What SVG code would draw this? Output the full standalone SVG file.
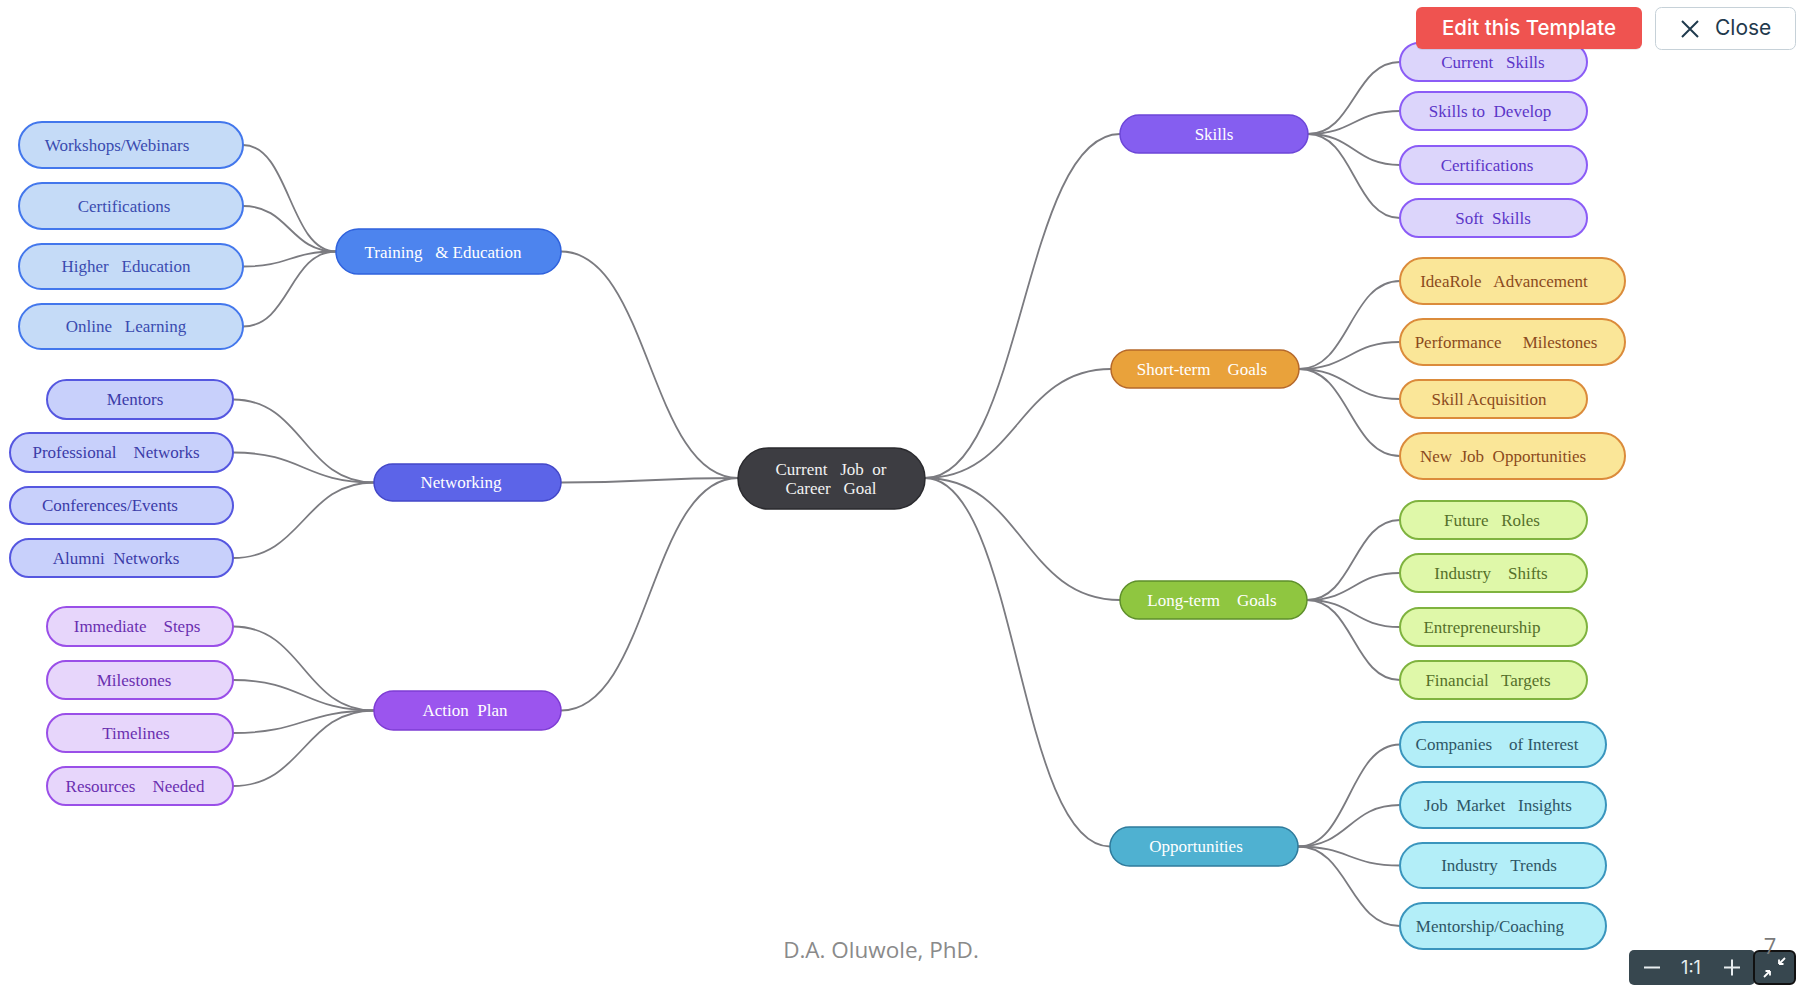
<svg xmlns="http://www.w3.org/2000/svg" width="1805" height="987" viewBox="0 0 1805 987">
<style>
text{font-family:"Liberation Serif","Times New Roman",serif;font-size:17px;text-anchor:middle;white-space:pre}
.conn path{fill:none;stroke:#7b7b80;stroke-width:1.8}
.root rect{fill:#3d3d42;stroke:#2a2a2e;stroke-width:1.5}
.root text{fill:#f2f2f2}
.br text{fill:#ffffff}
.tr rect{fill:#4d84ee;stroke:#2f62dd;stroke-width:1.5}
.trc rect{fill:#c5dbf7;stroke:#4377ec;stroke-width:2}
.trc text{fill:#3a4bb0}
.nw rect{fill:#5c64e8;stroke:#4347c8;stroke-width:1.5}
.nwc rect{fill:#c8d0fb;stroke:#5557e0;stroke-width:2}
.nwc text{fill:#3b3ba8}
.ap rect{fill:#9b55ee;stroke:#7e3cd4;stroke-width:1.5}
.apc rect{fill:#e7d6fb;stroke:#9a4fe8;stroke-width:2}
.apc text{fill:#6a2fb0}
.sk rect{fill:#855ef0;stroke:#6c46d8;stroke-width:1.5}
.skc rect{fill:#dcd5fb;stroke:#8b5cf6;stroke-width:2}
.skc text{fill:#5b35c8}
.st rect{fill:#e9a23b;stroke:#b5682a;stroke-width:1.5}
.stc rect{fill:#fae698;stroke:#db8b3b;stroke-width:2}
.stc text{fill:#8b4a1c}
.lt rect{fill:#8fc640;stroke:#5e8f2a;stroke-width:1.5}
.ltc rect{fill:#dff8a9;stroke:#7fb33f;stroke-width:2}
.ltc text{fill:#55702a}
.op rect{fill:#4fb1d1;stroke:#2f7b9c;stroke-width:1.5}
.opc rect{fill:#b3eef8;stroke:#3a95bd;stroke-width:2}
.opc text{fill:#2e5666}
.ui{font-family:Inter,Roboto,"Liberation Sans",sans-serif;text-anchor:start}
</style>

<g class="conn" id="connectors">
<path d="M925,478 C1022.5,478 1022.5,134 1120,134"/>
<path d="M925,478 C1018,478 1018,369 1111,369"/>
<path d="M925,478 C1022.5,478 1022.5,600 1120,600"/>
<path d="M925,478 C1017.5,478 1017.5,846.5 1110,846.5"/>
<path d="M738,478 C649.5,478 649.5,251.5 561,251.5"/>
<path d="M738,478 C649.5,478 649.5,482.5 561,482.5"/>
<path d="M738,478 C649.5,478 649.5,710.5 561,710.5"/>
<path d="M1308,134 C1354,134 1354,62 1400,62"/>
<path d="M1308,134 C1354,134 1354,111 1400,111"/>
<path d="M1308,134 C1354,134 1354,165 1400,165"/>
<path d="M1308,134 C1354,134 1354,218 1400,218"/>
<path d="M1299,369 C1349.5,369 1349.5,281 1400,281"/>
<path d="M1299,369 C1349.5,369 1349.5,342 1400,342"/>
<path d="M1299,369 C1349.5,369 1349.5,399 1400,399"/>
<path d="M1299,369 C1349.5,369 1349.5,456 1400,456"/>
<path d="M1307,600 C1353.5,600 1353.5,520 1400,520"/>
<path d="M1307,600 C1353.5,600 1353.5,573 1400,573"/>
<path d="M1307,600 C1353.5,600 1353.5,627 1400,627"/>
<path d="M1307,600 C1353.5,600 1353.5,680 1400,680"/>
<path d="M1298,846.5 C1349,846.5 1349,744.5 1400,744.5"/>
<path d="M1298,846.5 C1349,846.5 1349,805 1400,805"/>
<path d="M1298,846.5 C1349,846.5 1349,865.5 1400,865.5"/>
<path d="M1298,846.5 C1349,846.5 1349,926 1400,926"/>
<path d="M336,251.5 C289.5,251.5 289.5,145 243,145"/>
<path d="M336,251.5 C289.5,251.5 289.5,206 243,206"/>
<path d="M336,251.5 C289.5,251.5 289.5,266.5 243,266.5"/>
<path d="M336,251.5 C289.5,251.5 289.5,326.5 243,326.5"/>
<path d="M374,482.5 C303.5,482.5 303.5,399.5 233,399.5"/>
<path d="M374,482.5 C303.5,482.5 303.5,452.5 233,452.5"/>
<path d="M374,482.5 C303.5,482.5 303.5,558 233,558"/>
<path d="M374,710.5 C303.5,710.5 303.5,626.5 233,626.5"/>
<path d="M374,710.5 C303.5,710.5 303.5,680 233,680"/>
<path d="M374,710.5 C303.5,710.5 303.5,733 233,733"/>
<path d="M374,710.5 C303.5,710.5 303.5,786 233,786"/>
</g>

<g id="root" class="root"><rect x="738" y="448" width="187" height="61" rx="30.5"/><text x="831" y="475" xml:space="preserve">Current   Job  or</text><text x="831" y="494" xml:space="preserve">Career   Goal</text></g>

<g id="training" class="br tr"><rect x="336" y="229" width="225" height="45" rx="22.5"/><text x="443" y="258" xml:space="preserve">Training   &amp; Education</text></g>
<g id="workshops" class="trc"><rect x="19" y="122" width="224" height="46" rx="23"/><text x="117" y="151">Workshops/Webinars</text></g>
<g id="certifications-l" class="trc"><rect x="19" y="183" width="224" height="46" rx="23"/><text x="124" y="212">Certifications</text></g>
<g id="higher-education" class="trc"><rect x="19" y="244" width="224" height="45" rx="22.5"/><text x="126" y="272" xml:space="preserve">Higher   Education</text></g>
<g id="online-learning" class="trc"><rect x="19" y="304" width="224" height="45" rx="22.5"/><text x="126" y="332" xml:space="preserve">Online   Learning</text></g>

<g id="networking" class="br nw"><rect x="374" y="464" width="187" height="37" rx="18.5"/><text x="461" y="488">Networking</text></g>
<g id="mentors" class="nwc"><rect x="47" y="380" width="186" height="39" rx="19.5"/><text x="135" y="405">Mentors</text></g>
<g id="professional-networks" class="nwc"><rect x="10" y="433" width="223" height="39" rx="19.5"/><text x="116" y="458" xml:space="preserve">Professional    Networks</text></g>
<g id="conferences" class="nwc"><rect x="10" y="487" width="223" height="37" rx="18.5"/><text x="110" y="511">Conferences/Events</text></g>
<g id="alumni" class="nwc"><rect x="10" y="539" width="223" height="38" rx="19"/><text x="116" y="564" xml:space="preserve">Alumni  Networks</text></g>

<g id="action-plan" class="br ap"><rect x="374" y="691" width="187" height="39" rx="19.5"/><text x="465" y="716" xml:space="preserve">Action  Plan</text></g>
<g id="immediate-steps" class="apc"><rect x="47" y="607" width="186" height="39" rx="19.5"/><text x="137" y="632" xml:space="preserve">Immediate    Steps</text></g>
<g id="milestones" class="apc"><rect x="47" y="661" width="186" height="38" rx="19"/><text x="134" y="686">Milestones</text></g>
<g id="timelines" class="apc"><rect x="47" y="714" width="186" height="38" rx="19"/><text x="136" y="739">Timelines</text></g>
<g id="resources" class="apc"><rect x="47" y="767" width="186" height="38" rx="19"/><text x="135" y="792" xml:space="preserve">Resources    Needed</text></g>

<g id="skills" class="br sk"><rect x="1120" y="115" width="188" height="38" rx="19"/><text x="1214" y="140">Skills</text></g>
<g id="current-skills" class="skc"><rect x="1400" y="43" width="187" height="38" rx="19"/><text x="1493" y="68" xml:space="preserve">Current   Skills</text></g>
<g id="skills-to-develop" class="skc"><rect x="1400" y="92" width="187" height="38" rx="19"/><text x="1490" y="117" xml:space="preserve">Skills to  Develop</text></g>
<g id="certifications-r" class="skc"><rect x="1400" y="146" width="187" height="38" rx="19"/><text x="1487" y="171">Certifications</text></g>
<g id="soft-skills" class="skc"><rect x="1400" y="199" width="187" height="38" rx="19"/><text x="1493" y="224" xml:space="preserve">Soft  Skills</text></g>

<g id="short-term" class="br st"><rect x="1111" y="350" width="188" height="38" rx="19"/><text x="1202" y="375" xml:space="preserve">Short-term    Goals</text></g>
<g id="idearole" class="stc"><rect x="1400" y="258" width="225" height="46" rx="23"/><text x="1504" y="287" xml:space="preserve">IdeaRole   Advancement</text></g>
<g id="performance" class="stc"><rect x="1400" y="319" width="225" height="46" rx="23"/><text x="1506" y="348" xml:space="preserve">Performance     Milestones</text></g>
<g id="skill-acquisition" class="stc"><rect x="1400" y="380" width="187" height="38" rx="19"/><text x="1489" y="405">Skill Acquisition</text></g>
<g id="new-job" class="stc"><rect x="1400" y="433" width="225" height="46" rx="23"/><text x="1503" y="462" xml:space="preserve">New  Job  Opportunities</text></g>

<g id="long-term" class="br lt"><rect x="1120" y="581" width="187" height="38" rx="19"/><text x="1212" y="606" xml:space="preserve">Long-term    Goals</text></g>
<g id="future-roles" class="ltc"><rect x="1400" y="501" width="187" height="38" rx="19"/><text x="1492" y="526" xml:space="preserve">Future   Roles</text></g>
<g id="industry-shifts" class="ltc"><rect x="1400" y="554" width="187" height="38" rx="19"/><text x="1491" y="579" xml:space="preserve">Industry    Shifts</text></g>
<g id="entrepreneurship" class="ltc"><rect x="1400" y="608" width="187" height="38" rx="19"/><text x="1482" y="633">Entrepreneurship</text></g>
<g id="financial-targets" class="ltc"><rect x="1400" y="661" width="187" height="38" rx="19"/><text x="1488" y="686" xml:space="preserve">Financial   Targets</text></g>

<g id="opportunities" class="br op"><rect x="1110" y="827" width="188" height="39" rx="19.5"/><text x="1196" y="852">Opportunities</text></g>
<g id="companies" class="opc"><rect x="1400" y="722" width="206" height="45" rx="22.5"/><text x="1497" y="750" xml:space="preserve">Companies    of Interest</text></g>
<g id="job-market" class="opc"><rect x="1400" y="782" width="206" height="46" rx="23"/><text x="1498" y="811" xml:space="preserve">Job  Market   Insights</text></g>
<g id="industry-trends" class="opc"><rect x="1400" y="843" width="206" height="45" rx="22.5"/><text x="1499" y="871" xml:space="preserve">Industry   Trends</text></g>
<g id="mentorship" class="opc"><rect x="1400" y="903" width="206" height="46" rx="23"/><text x="1490" y="932">Mentorship/Coaching</text></g>

<g id="edit-button">
<rect x="1416" y="8" width="226" height="42" rx="6" fill="#000" opacity="0.08"/>
<rect x="1416" y="7" width="226" height="42" rx="6" fill="#ef5350"/>
<text class="ui" x="1529" y="35" style="font-size:20.5px;font-weight:500;fill:#ffffff;text-anchor:middle">Edit this Template</text>
</g>
<g id="close-button">
<rect x="1655.5" y="7.5" width="140" height="42" rx="6" fill="#ffffff" stroke="#c6d1d8" stroke-width="1"/>
<path d="M1682,21 L1698,37 M1698,21 L1682,37" stroke="#1f3a4d" stroke-width="2" fill="none"/>
<text class="ui" x="1715" y="35" style="font-size:21px;fill:#1f3a4d">Close</text>
</g>

<text id="footer" x="881" y="958" style="font-family:'Open Sans','Liberation Sans',sans-serif;font-size:22.5px;fill:#8a8a8a;text-anchor:middle">D.A. Oluwole, PhD.</text>

<g id="zoom-control">
<rect x="1629" y="950" width="126" height="35" rx="5" fill="#37474f"/>
<path d="M1644,967.5 H1660" stroke="#e8eef0" stroke-width="2"/>
<text class="ui" x="1691" y="974" style="font-size:18px;fill:#e8eef0;text-anchor:middle">1:1</text>
<path d="M1724,967.5 H1740 M1732,959.5 V975.5" stroke="#e8eef0" stroke-width="2"/>
<rect x="1754" y="951" width="41" height="33" rx="5" fill="#37474f" stroke="#111" stroke-width="2"/>
<path d="M1779,964 L1785,958 M1779,964 H1783.5 M1779,964 V959.5 M1770,971 L1764,977 M1770,971 H1765.5 M1770,971 V975.5" stroke="#ffffff" stroke-width="1.8" fill="none"/>
<text x="1770" y="954" style="font-family:'Open Sans','Liberation Sans',sans-serif;font-size:22px;fill:#7a7a7a">7</text>
</g>
</svg>
